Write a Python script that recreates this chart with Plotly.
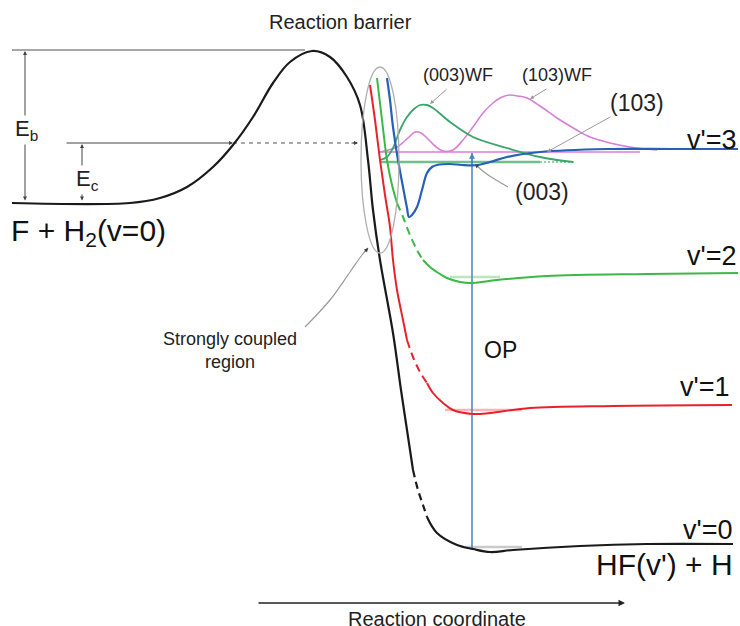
import plotly.graph_objects as go

W, H = 740, 626
FONT = "Liberation Sans, Arial, sans-serif"

# ---- curves (pixel coordinates, y downward) ----
# ground state PES F + H2 -> HF(v'=0) + H
GROUND_A_X = [12, 130, 160, 187, 213, 233, 253, 273, 290, 312, 330, 347, 360, 368, 373, 380, 393, 401, 407, 413]
GROUND_A_Y = [203, 203, 198, 187, 167, 145, 117, 83, 62, 51, 57, 77, 105, 160, 210, 260, 333, 390, 430, 470]
GROUND_D_X = [413, 418, 423, 427]
GROUND_D_Y = [470, 490, 505, 517]
GROUND_B_X = [427, 437, 457, 473, 490, 513, 580, 647, 733]
GROUND_B_Y = [517, 533, 545, 549, 552, 550, 546, 544, 544]

# v'=1 (red)
V1_A_X = [370, 375, 380, 385, 390, 393, 397, 403, 407]
V1_A_Y = [85, 120, 160, 195, 227, 260, 290, 320, 340]
V1_D_X = [407, 413, 420, 427]
V1_D_Y = [340, 357, 372, 383]
V1_B_X = [427, 433, 443, 453, 473, 490, 530, 613, 732]
V1_B_Y = [383, 393, 403, 410, 414, 413, 408, 406, 405]

# v'=2 (green)
V2_A_X = [377, 382, 387, 392, 397]
V2_A_Y = [78, 120, 160, 185, 203]
V2_D_X = [397, 403, 410, 417, 423]
V2_D_Y = [203, 217, 235, 250, 260]
V2_B_X = [423, 430, 440, 447, 460, 473, 497, 547, 647, 738]
V2_B_Y = [260, 267, 274, 278, 282, 283, 280, 276, 274, 273]

# v'=3 (blue)
V3_X = [387, 390, 393, 398, 403, 407, 409, 412, 417, 422, 427, 432, 437, 450, 462, 478, 490, 507, 540, 607, 673, 738]
V3_Y = [78, 100, 127, 160, 187, 208, 217, 215, 207, 190, 173, 167, 165, 164, 165, 165, 162, 157, 152, 149, 149, 149]

# resonance wave functions
WF003_X = [380, 387, 393, 400, 407, 414, 420, 427, 433, 450, 473, 507, 540, 573]
WF003_Y = [160, 157, 148, 130, 117, 109, 105, 105, 108, 122, 137, 148, 157, 162]
WF103_X = [380, 397, 408, 415, 421, 427, 435, 443, 453, 463, 473, 483, 493, 502, 510, 518, 527, 540, 557, 575, 590, 610, 630, 657]
WF103_Y = [152, 147, 138, 132, 133, 138, 146, 151, 150, 140, 127, 113, 103, 97, 95, 96, 98, 106, 118, 129, 137, 143, 147, 150]

# resonance energy levels
LEVEL103_X = [380, 640]
LEVEL103_Y = [152, 152]
LEVEL003_X = [380, 540]
LEVEL003_Y = [162, 162]
LEVEL003_DOT_X = [540, 575]
LEVEL003_DOT_Y = [162, 162]
# faint vibrational levels in the wells
FAINT_X = [[450, 500], [445, 522], [465, 522]]
FAINT_Y = [[277, 277], [410, 410], [547, 547]]
FAINT_C = ["rgba(60,180,70,0.35)", "rgba(235,40,50,0.35)", "rgba(80,80,80,0.3)"]

# barrier energy reference and the collision-energy line
EB_LINE_X = [12, 305]
EB_LINE_Y = [50, 50]
EC_DASH_X = [233, 358]
EC_DASH_Y = [143, 143]

# OP line
OP_X = [472, 472]
OP_Y = [549, 153]

# strongly coupled region ellipse: centre x, centre y, half width, half height
ELLIPSE = [380, 160, 19, 93]

# leader lines
LEAD_003_X = [508, 496, 484, 476]
LEAD_003_Y = [187, 180, 172, 165]
LEAD_SC_X = [305, 330, 350, 362, 368]
LEAD_SC_Y = [327, 300, 272, 255, 248]

BLACK = "#1a1a1a"
RED = "#e8222c"
GREEN = "#3cb846"
BLUE = "#2760b8"
OPBLUE = "#4a80c4"
WFGREEN = "#3aa66a"
PINK = "#d77fd6"
GRAY = "#9a9a9a"

fig = go.Figure()


def line(x, y, color, width=2.0, dash="solid", shape="spline"):
    fig.add_trace(go.Scatter(x=x, y=y, mode="lines",
                             line=dict(color=color, width=width, dash=dash, shape=shape,
                                       smoothing=1.0),
                             hoverinfo="skip", showlegend=False))


# reference lines
line(EB_LINE_X, EB_LINE_Y, "#8a8a8a", 1.6, shape="linear")
line(EC_DASH_X, EC_DASH_Y, "#555555", 1.2, dash="4px,4px", shape="linear")

# faint levels
for fx, fy, fc in zip(FAINT_X, FAINT_Y, FAINT_C):
    line(fx, fy, fc, 2.5, shape="linear")

# resonance levels
line(LEVEL103_X, LEVEL103_Y, PINK, 1.6, shape="linear")
line(LEVEL003_X, LEVEL003_Y, "rgba(60,170,100,0.75)", 2.5, shape="linear")
line(LEVEL003_DOT_X, LEVEL003_DOT_Y, "rgba(60,170,100,0.75)", 1.5, dash="2px,2px", shape="linear")

# wave functions
line(WF103_X, WF103_Y, PINK, 1.6)
line(WF003_X, WF003_Y, WFGREEN, 1.8)

# OP line
line(OP_X, OP_Y, OPBLUE, 1.5, shape="linear")

# ellipse
cx, cy, rx, ry = ELLIPSE
fig.add_shape(type="circle", xref="x", yref="y", x0=cx - rx, x1=cx + rx,
              y0=cy - ry, y1=cy + ry, line=dict(color="#b0b0b0", width=1.3))

# vibrational adiabats
line(V2_A_X, V2_A_Y, GREEN, 2.0)
line(V2_D_X, V2_D_Y, GREEN, 2.0, dash="8px,5px")
line(V2_B_X, V2_B_Y, GREEN, 2.0)
line(V1_A_X, V1_A_Y, RED, 2.0)
line(V1_D_X, V1_D_Y, RED, 2.0, dash="8px,5px")
line(V1_B_X, V1_B_Y, RED, 2.0)
line(V3_X, V3_Y, BLUE, 2.2)
line(GROUND_A_X, GROUND_A_Y, BLACK, 2.2)
line(GROUND_D_X, GROUND_D_Y, BLACK, 2.2, dash="7px,5px")
line(GROUND_B_X, GROUND_B_Y, BLACK, 2.2)

# leader curves
line(LEAD_003_X, LEAD_003_Y, GRAY, 1.2)
line(LEAD_SC_X, LEAD_SC_Y, GRAY, 1.2)

annotations = []


def arrow(x, y, ax, ay, color="#333333", width=1.0, head=2, size=1.0, side="end"):
    annotations.append(dict(x=x, y=y, ax=ax, ay=ay, xref="x", yref="y", axref="x", ayref="y",
                            text="", showarrow=True, arrowhead=head, arrowsize=size,
                            arrowwidth=width, arrowcolor=color, arrowside=side,
                            startarrowhead=head, startarrowsize=size))


def label(x, y, text, size, xanchor="center", color="#222222", bg=None):
    d = dict(x=x, y=y, xref="x", yref="y", text=text, showarrow=False,
             xanchor=xanchor, yanchor="middle",
             font=dict(family=FONT, size=size, color=color))
    if bg:
        d["bgcolor"] = bg
        d["borderpad"] = 0
    annotations.append(d)


# Eb / Ec arrows
arrow(25, 51, 25, 202, "#444444", 1.0, 2, 0.8, "end+start")
arrow(82, 144, 82, 202, "#444444", 1.0, 2, 0.8, "end+start")
arrow(233, 143, 65, 143, "#444444", 1.0, 2, 0.8)
arrow(358, 143, 350, 143, "#444444", 1.0, 2, 0.8)

# leader arrows
arrow(430, 104, 448, 88, GRAY, 1.0, 2, 0.8)
arrow(530, 99, 548, 88, GRAY, 1.0, 2, 0.8)
arrow(547, 152, 612, 116, GRAY, 1.0, 2, 0.8)
arrow(475, 164, 478, 167, "#444444", 1.0, 2, 0.8)
arrow(368, 248, 364, 253, "#333333", 1.0, 2, 0.8)

# OP arrowhead
arrow(472, 153, 472, 165, OPBLUE, 1.3, 2, 0.9)

# reaction coordinate arrow
arrow(625, 603, 257, 603, "#222222", 1.3, 2, 1.0)

# texts
label(340, 22, "Reaction barrier", 20)
label(14, 130, "E<sub>b</sub>", 22, "left", "#222222", "white")
label(75, 180, "E<sub>c</sub>", 22, "left", "#222222", "white")
label(9, 232, "F + H<sub>2</sub>(v=0)", 30, "left", "#111111")
label(458, 75, "(003)WF", 18)
label(557, 75, "(103)WF", 18)
label(637, 103, "(103)", 23)
label(542, 192, "(003)", 23)
label(738, 140, "v'=3", 27, "right", "#111111")
label(738, 256, "v'=2", 27, "right", "#111111")
label(731, 387, "v'=1", 27, "right", "#111111")
label(734, 530, "v'=0", 27, "right", "#111111")
label(735, 564, "HF(v') + H", 30, "right", "#111111")
label(482, 350, "OP", 23, "left", "#111111")
label(230, 350, "Strongly coupled<br>region", 18)
label(437, 619, "Reaction coordinate", 20)

fig.update_layout(
    width=W, height=H,
    margin=dict(l=0, r=0, t=0, b=0),
    paper_bgcolor="white", plot_bgcolor="white",
    xaxis=dict(range=[0, W], visible=False, fixedrange=True),
    yaxis=dict(range=[H, 0], visible=False, fixedrange=True),
    annotations=annotations,
    showlegend=False,
)

fig.write_html("out.html", config={"displayModeBar": False},
               post_script="document.body.style.margin='0';document.body.style.overflow='hidden';")
